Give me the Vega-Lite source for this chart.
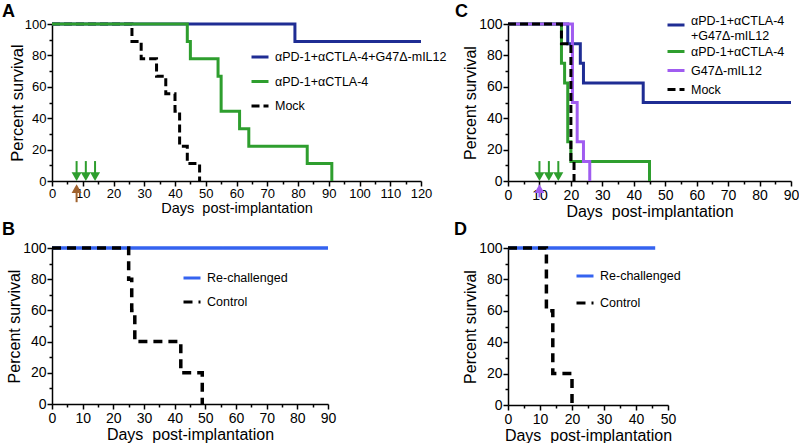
{
  "$schema": "https://vega.github.io/schema/vega-lite/v6.json",
  "padding": {"left": 2, "top": 3, "right": 0, "bottom": 0},
  "background": "white",
  "columns": 2,
  "spacing": {"row": 67, "column": 87},
  "bounds": "flush",
  "align": "each",
  "datasets": {
    "a": [
      {"group": "Mock", "day": 0, "pct": 100},
      {"group": "Mock", "day": 26, "pct": 88.9},
      {"group": "Mock", "day": 29, "pct": 77.8},
      {"group": "Mock", "day": 34, "pct": 66.7},
      {"group": "Mock", "day": 37, "pct": 55.6},
      {"group": "Mock", "day": 40, "pct": 44.4},
      {"group": "Mock", "day": 41.5, "pct": 22.2},
      {"group": "Mock", "day": 44, "pct": 11.1},
      {"group": "Mock", "day": 48, "pct": 0},
      {"group": "αPD-1+αCTLA-4+G47Δ-mIL12", "day": 0, "pct": 100},
      {"group": "αPD-1+αCTLA-4+G47Δ-mIL12", "day": 79, "pct": 88.9},
      {"group": "αPD-1+αCTLA-4+G47Δ-mIL12", "day": 120, "pct": 88.9},
      {"group": "αPD-1+αCTLA-4", "day": 0, "pct": 100},
      {"group": "αPD-1+αCTLA-4", "day": 44, "pct": 88.9},
      {"group": "αPD-1+αCTLA-4", "day": 45, "pct": 77.8},
      {"group": "αPD-1+αCTLA-4", "day": 54, "pct": 66.7},
      {"group": "αPD-1+αCTLA-4", "day": 55, "pct": 44.4},
      {"group": "αPD-1+αCTLA-4", "day": 61, "pct": 33.3},
      {"group": "αPD-1+αCTLA-4", "day": 64, "pct": 22.2},
      {"group": "αPD-1+αCTLA-4", "day": 83, "pct": 11.1},
      {"group": "αPD-1+αCTLA-4", "day": 91, "pct": 0}
    ],
    "c": [
      {"group": "αPD-1+αCTLA-4+G47Δ-mIL12", "day": 0, "pct": 100},
      {"group": "αPD-1+αCTLA-4+G47Δ-mIL12", "day": 19, "pct": 87.5},
      {"group": "αPD-1+αCTLA-4+G47Δ-mIL12", "day": 23, "pct": 75},
      {"group": "αPD-1+αCTLA-4+G47Δ-mIL12", "day": 24, "pct": 62.5},
      {"group": "αPD-1+αCTLA-4+G47Δ-mIL12", "day": 43, "pct": 50},
      {"group": "αPD-1+αCTLA-4+G47Δ-mIL12", "day": 90, "pct": 50},
      {"group": "αPD-1+αCTLA-4", "day": 0, "pct": 100},
      {"group": "αPD-1+αCTLA-4", "day": 17, "pct": 75},
      {"group": "αPD-1+αCTLA-4", "day": 18, "pct": 62.5},
      {"group": "αPD-1+αCTLA-4", "day": 19, "pct": 25},
      {"group": "αPD-1+αCTLA-4", "day": 20, "pct": 12.5},
      {"group": "αPD-1+αCTLA-4", "day": 45, "pct": 0},
      {"group": "G47Δ-mIL12", "day": 0, "pct": 100},
      {"group": "G47Δ-mIL12", "day": 20.5, "pct": 50},
      {"group": "G47Δ-mIL12", "day": 22, "pct": 25},
      {"group": "G47Δ-mIL12", "day": 24, "pct": 12.5},
      {"group": "G47Δ-mIL12", "day": 26, "pct": 0},
      {"group": "Mock", "day": 0, "pct": 100},
      {"group": "Mock", "day": 17, "pct": 87.5},
      {"group": "Mock", "day": 20, "pct": 12.5},
      {"group": "Mock", "day": 21, "pct": 0}
    ],
    "b": [
      {"group": "Re-challenged", "day": 0, "pct": 100},
      {"group": "Re-challenged", "day": 90, "pct": 100},
      {"group": "Control", "day": 0, "pct": 100},
      {"group": "Control", "day": 25, "pct": 80},
      {"group": "Control", "day": 26, "pct": 60},
      {"group": "Control", "day": 27, "pct": 40},
      {"group": "Control", "day": 42, "pct": 20},
      {"group": "Control", "day": 49, "pct": 0}
    ],
    "d": [
      {"group": "Re-challenged", "day": 0, "pct": 100},
      {"group": "Re-challenged", "day": 46, "pct": 100},
      {"group": "Control", "day": 0, "pct": 100},
      {"group": "Control", "day": 12, "pct": 60},
      {"group": "Control", "day": 14, "pct": 20},
      {"group": "Control", "day": 20, "pct": 0}
    ],
    "arrA": [
      {"day": 8, "agent": "antibody"},
      {"day": 11, "agent": "antibody"},
      {"day": 14, "agent": "antibody"},
      {"day": 8, "agent": "virus"}
    ],
    "arrC": [
      {"day": 10, "agent": "antibody"},
      {"day": 13, "agent": "antibody"},
      {"day": 16, "agent": "antibody"},
      {"day": 10, "agent": "virus"}
    ]
  },
  "concat": [
    {
      "width": 369, "height": 157,
      "title": {"text": "A", "dx": -50, "offset": -3},
      "layer": [
        {
          "data": {"name": "a"},
          "mark": {"type": "line", "interpolate": "step-after", "strokeWidth": 3},
          "encoding": {
            "x": {"field": "day", "type": "quantitative", "scale": {"domain": [0, 120], "nice": false, "zero": false},
              "axis": {"orient": "bottom", "values": [0,10,20,30,40,50,60,70,80,90,100,110,120], "tickSize": 5, "labelPadding": 1, "labelFontSize": 13, "title": "Days\u00a0 post-implantation", "titleFontSize": 14.5, "titlePadding": 1}},
            "y": {"field": "pct", "type": "quantitative", "scale": {"domain": [0, 100], "nice": false},
              "axis": {"orient": "left", "values": [0,20,40,60,80,100], "tickSize": 5, "labelPadding": 1, "labelFontSize": 13, "title": "Percent survival", "titleFontSize": 16.5, "titlePadding": -1}},
            "color": {"field": "group", "type": "nominal",
              "scale": {"domain": ["αPD-1+αCTLA-4+G47Δ-mIL12", "αPD-1+αCTLA-4", "Mock"], "range": ["#1f2d94", "#2e9e2e", "#000000"]},
              "legend": {"title": null, "legendX": 198, "legendY": 23, "rowPadding": 7.5}},
            "strokeDash": {"field": "group", "type": "nominal",
              "scale": {"domain": ["αPD-1+αCTLA-4+G47Δ-mIL12", "αPD-1+αCTLA-4", "Mock"], "range": [[1,0],[1,0],[8,4]]},
              "legend": {"title": null, "legendX": 198, "legendY": 23, "rowPadding": 7.5}}
          }
        },
        {
          "data": {"name": "arrA"},
          "transform": [{"filter": "datum.agent == 'antibody'"}],
          "mark": {"type": "rule", "strokeWidth": 2, "color": "#2e9e2e"},
          "encoding": {
            "x": {"field": "day", "type": "quantitative", "axis": {"orient": "bottom", "values": [5,15,25,35,45,55,65,75,85,95,105,115], "tickSize": 3, "labels": false, "domain": false, "title": null}},
            "y": {"datum": 12.7, "type": "quantitative", "axis": {"orient": "left", "values": [10,30,50,70,90], "tickSize": 3, "labels": false, "domain": false, "title": null}},
            "y2": {"datum": 4}
          }
        },
        {
          "data": {"name": "arrA"},
          "transform": [{"filter": "datum.agent == 'antibody'"}],
          "mark": {"type": "point", "shape": "triangle-down", "filled": true, "size": 100, "opacity": 1, "color": "#2e9e2e"},
          "encoding": {
            "x": {"field": "day", "type": "quantitative", "axis": null},
            "y": {"datum": 2.8, "type": "quantitative", "axis": null}
          }
        },
        {
          "data": {"name": "arrA"},
          "transform": [{"filter": "datum.agent == 'virus'"}],
          "mark": {"type": "rule", "strokeWidth": 2, "color": "#a0622d"},
          "encoding": {
            "x": {"field": "day", "type": "quantitative", "axis": null},
            "y": {"datum": -13.5, "type": "quantitative", "axis": null},
            "y2": {"datum": -6}
          }
        },
        {
          "data": {"name": "arrA"},
          "transform": [{"filter": "datum.agent == 'virus'"}],
          "mark": {"type": "point", "shape": "triangle-up", "filled": true, "size": 100, "opacity": 1, "color": "#a0622d"},
          "encoding": {
            "x": {"field": "day", "type": "quantitative", "axis": null},
            "y": {"datum": -4.9, "type": "quantitative", "axis": null}
          }
        }
      ],
      "resolve": {"axis": {"x": "independent", "y": "independent"}}
    },
    {
      "width": 283, "height": 157,
      "title": {"text": "C", "dx": -53, "offset": -6},
      "layer": [
        {
          "data": {"name": "c"},
          "transform": [{"filter": "datum.group == 'αPD-1+αCTLA-4+G47Δ-mIL12'"}],
          "mark": {"type": "line", "interpolate": "step-after", "strokeWidth": 3},
          "encoding": {
            "x": {"field": "day", "type": "quantitative", "scale": {"domain": [0, 90], "nice": false, "zero": false},
              "axis": {"orient": "bottom", "values": [0,10,20,30,40,50,60,70,80,90], "tickSize": 5, "labelPadding": 2, "title": "Days\u00a0 post-implantation", "titlePadding": 1}},
            "y": {"field": "pct", "type": "quantitative", "scale": {"domain": [0, 100], "nice": false},
              "axis": {"orient": "left", "values": [0,20,40,60,80,100], "tickSize": 5, "labelPadding": 1, "title": "Percent survival", "titlePadding": 0}},
            "color": {"field": "group", "type": "nominal",
              "scale": {"domain": ["αPD-1+αCTLA-4+G47Δ-mIL12"], "range": ["#1f2d94"]},
              "legend": {"title": null, "legendX": 158, "legendY": -9, "labelBaseline": "alphabetic", "labelExpr": "['αPD-1+αCTLA-4', '+G47Δ-mIL12']"}}
          }
        },
        {
          "data": {"name": "c"},
          "transform": [{"filter": "datum.group != 'αPD-1+αCTLA-4+G47Δ-mIL12'"}],
          "mark": {"type": "line", "interpolate": "step-after", "strokeWidth": 3},
          "encoding": {
            "x": {"field": "day", "type": "quantitative", "axis": null},
            "y": {"field": "pct", "type": "quantitative", "axis": null},
            "color": {"field": "group", "type": "nominal",
              "scale": {"domain": ["αPD-1+αCTLA-4", "G47Δ-mIL12", "Mock"], "range": ["#2e9e2e", "#a05cf0", "#000000"]},
              "legend": {"title": null, "legendX": 158, "legendY": 17.5, "rowPadding": 2}},
            "strokeDash": {"field": "group", "type": "nominal",
              "scale": {"domain": ["αPD-1+αCTLA-4", "G47Δ-mIL12", "Mock"], "range": [[1,0],[1,0],[8,4]]},
              "legend": {"title": null, "legendX": 158, "legendY": 17.5, "rowPadding": 2}}
          }
        },
        {
          "data": {"name": "arrC"},
          "transform": [{"filter": "datum.agent == 'antibody'"}],
          "mark": {"type": "rule", "strokeWidth": 2, "color": "#2e9e2e"},
          "encoding": {
            "x": {"field": "day", "type": "quantitative", "axis": {"orient": "bottom", "values": [5,15,25,35,45,55,65,75,85], "tickSize": 3, "labels": false, "domain": false, "title": null}},
            "y": {"datum": 12.7, "type": "quantitative", "axis": {"orient": "left", "values": [10,30,50,70,90], "tickSize": 3, "labels": false, "domain": false, "title": null}},
            "y2": {"datum": 4}
          }
        },
        {
          "data": {"name": "arrC"},
          "transform": [{"filter": "datum.agent == 'antibody'"}],
          "mark": {"type": "point", "shape": "triangle-down", "filled": true, "size": 100, "opacity": 1, "color": "#2e9e2e"},
          "encoding": {
            "x": {"field": "day", "type": "quantitative", "axis": null},
            "y": {"datum": 2.8, "type": "quantitative", "axis": null}
          }
        },
        {
          "data": {"name": "arrC"},
          "transform": [{"filter": "datum.agent == 'virus'"}],
          "mark": {"type": "rule", "strokeWidth": 2, "color": "#a05cf0"},
          "encoding": {
            "x": {"field": "day", "type": "quantitative", "axis": null},
            "y": {"datum": -10.5, "type": "quantitative", "axis": null},
            "y2": {"datum": -6}
          }
        },
        {
          "data": {"name": "arrC"},
          "transform": [{"filter": "datum.agent == 'virus'"}],
          "mark": {"type": "point", "shape": "triangle-up", "filled": true, "size": 100, "opacity": 1, "color": "#a05cf0"},
          "encoding": {
            "x": {"field": "day", "type": "quantitative", "axis": null},
            "y": {"datum": -4.9, "type": "quantitative", "axis": null}
          }
        }
      ],
      "resolve": {"axis": {"x": "independent", "y": "independent"}, "scale": {"color": "independent", "strokeDash": "independent"}}
    },
    {
      "width": 276, "height": 156,
      "title": {"text": "B", "dx": -50, "offset": 2},
      "layer": [
        {
          "data": {"name": "b"},
          "mark": {"type": "line", "interpolate": "step-after", "strokeWidth": 3.5},
          "encoding": {
            "x": {"field": "day", "type": "quantitative", "scale": {"domain": [0, 90], "nice": false, "zero": false},
              "axis": {"orient": "bottom", "values": [0,10,20,30,40,50,60,70,80,90], "tickSize": 5, "labelPadding": 2, "title": "Days\u00a0 post-implantation", "titlePadding": 1}},
            "y": {"field": "pct", "type": "quantitative", "scale": {"domain": [0, 100], "nice": false},
              "axis": {"orient": "left", "values": [0,20,40,60,80,100], "tickSize": 5, "labelPadding": 1, "title": "Percent survival", "titlePadding": 0}},
            "color": {"field": "group", "type": "nominal",
              "scale": {"domain": ["Re-challenged", "Control"], "range": ["#3563f0", "#000000"]},
              "legend": {"title": null, "legendX": 130, "legendY": 20, "rowPadding": 7}},
            "strokeDash": {"field": "group", "type": "nominal",
              "scale": {"domain": ["Re-challenged", "Control"], "range": [[1,0],[9,6]]},
              "legend": {"title": null, "legendX": 130, "legendY": 20, "rowPadding": 7}}
          }
        },
        {
          "data": {"name": "b"},
          "mark": {"type": "rule", "opacity": 0},
          "encoding": {
            "x": {"field": "day", "type": "quantitative", "axis": {"orient": "bottom", "values": [5,15,25,35,45,55,65,75,85], "tickSize": 3, "labels": false, "domain": false, "title": null}},
            "y": {"field": "pct", "type": "quantitative", "axis": {"orient": "left", "values": [10,30,50,70,90], "tickSize": 3, "labels": false, "domain": false, "title": null}}
          }
        }
      ],
      "resolve": {"axis": {"x": "independent", "y": "independent"}}
    },
    {
      "width": 160, "height": 157,
      "title": {"text": "D", "dx": -54, "offset": 2},
      "layer": [
        {
          "data": {"name": "d"},
          "mark": {"type": "line", "interpolate": "step-after", "strokeWidth": 3.5},
          "encoding": {
            "x": {"field": "day", "type": "quantitative", "scale": {"domain": [0, 50], "nice": false, "zero": false},
              "axis": {"orient": "bottom", "values": [0,10,20,30,40,50], "tickSize": 5, "labelPadding": 2, "title": "Days\u00a0 post-implantation", "titlePadding": 1}},
            "y": {"field": "pct", "type": "quantitative", "scale": {"domain": [0, 100], "nice": false},
              "axis": {"orient": "left", "values": [0,20,40,60,80,100], "tickSize": 5, "labelPadding": 1, "title": "Percent survival", "titlePadding": 0}},
            "color": {"field": "group", "type": "nominal",
              "scale": {"domain": ["Re-challenged", "Control"], "range": ["#3563f0", "#000000"]},
              "legend": {"title": null, "legendX": 67, "legendY": 18, "rowPadding": 10}},
            "strokeDash": {"field": "group", "type": "nominal",
              "scale": {"domain": ["Re-challenged", "Control"], "range": [[1,0],[9,6]]},
              "legend": {"title": null, "legendX": 67, "legendY": 18, "rowPadding": 10}}
          }
        },
        {
          "data": {"name": "d"},
          "mark": {"type": "rule", "opacity": 0},
          "encoding": {
            "x": {"field": "day", "type": "quantitative", "axis": {"orient": "bottom", "values": [5,15,25,35,45], "tickSize": 3, "labels": false, "domain": false, "title": null}},
            "y": {"field": "pct", "type": "quantitative", "axis": {"orient": "left", "values": [10,30,50,70,90], "tickSize": 3, "labels": false, "domain": false, "title": null}}
          }
        }
      ],
      "resolve": {"axis": {"x": "independent", "y": "independent"}}
    }
  ],
  "resolve": {
    "scale": {"x": "independent", "y": "independent", "color": "independent", "strokeDash": "independent"},
    "legend": {"color": "independent", "strokeDash": "independent"}
  },
  "config": {
    "font": "Liberation Sans",
    "view": {"stroke": null},
    "axis": {"domainColor": "#000000", "domainWidth": 1.5, "tickColor": "#000000", "tickWidth": 1.5, "labelColor": "#000000", "titleColor": "#000000", "labelFont": "Liberation Sans", "titleFont": "Liberation Sans", "titleFontWeight": "normal", "grid": false, "labelFontSize": 14, "titleFontSize": 16, "labelFlush": false, "labelOverlap": false},
    "legend": {"orient": "none", "labelFont": "Liberation Sans", "labelFontSize": 12.5, "labelColor": "#000000", "symbolType": "stroke", "symbolStrokeWidth": 3, "symbolSize": 289, "labelLimit": 400, "labelOffset": 5},
    "title": {"font": "Liberation Sans", "fontSize": 18, "fontWeight": "bold", "anchor": "start", "frame": "group", "color": "#000000"}
  }
}
